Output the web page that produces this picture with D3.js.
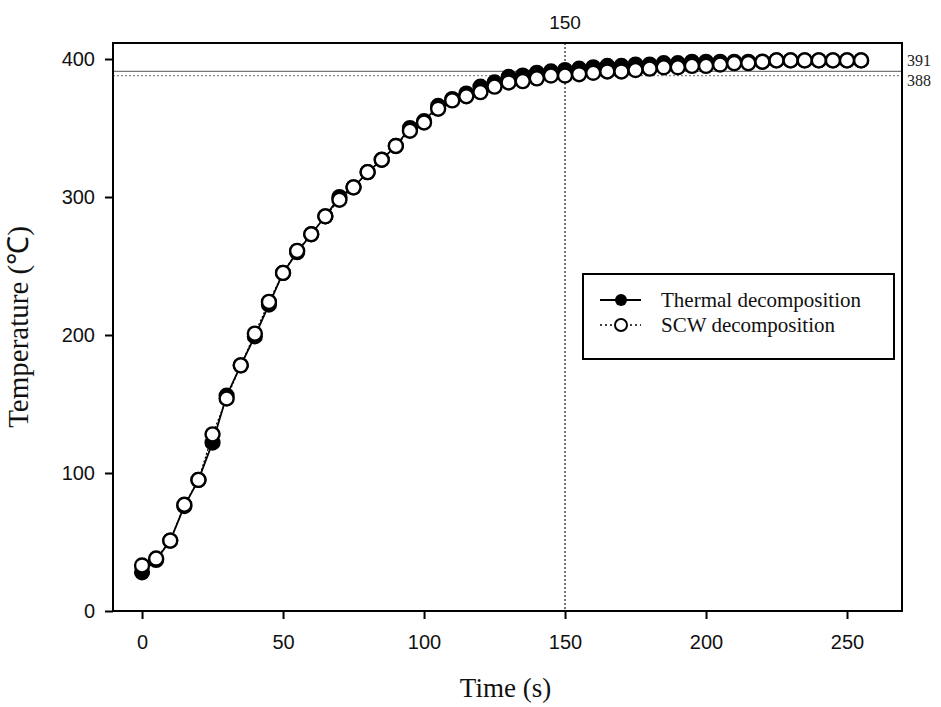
<!DOCTYPE html>
<html>
<head>
<meta charset="utf-8"/>
<script src="https://d3js.org/d3.v7.min.js"></script>
<style>
  body { margin: 0; background: #fff; }
  .tick text { font-family: "Liberation Sans", Arial, sans-serif; font-size: 20px; fill: #111; }
  .serif { font-family: "Liberation Serif", "Times New Roman", serif; }
</style>
</head>
<body>
<svg id="chart" width="941" height="707"></svg>
<script>
// time (s), both runs sampled every 5 s
var times = d3.range(0, 256, 5);

var thermal = [28, 37, 51, 76, 95, 122, 156, 178, 199, 222, 245, 260, 273, 286, 300, 307,
  318, 327, 337, 350, 355, 366, 371, 375, 380, 383, 387, 388, 390, 391, 392, 393, 394, 395,
  395, 396, 396, 397, 397, 398, 398, 398, 398, 398, 398, 399, 399, 399, 399, 399, 399, 399];

var scw = [33, 38, 51, 77, 95, 128, 154, 178, 201, 224, 245, 261, 273, 286, 298, 307,
  318, 327, 337, 348, 354, 364, 370, 373, 376, 380, 383, 384, 386, 388, 388, 389, 390, 391,
  391, 392, 393, 394, 394, 395, 395, 396, 397, 397, 398, 399, 399, 399, 399, 399, 399, 399];

var xTicks = [0, 50, 100, 150, 200, 250];
var yTicks = [0, 100, 200, 300, 400];
var refLines = [391, 388];
var refLabels = ["391", "388"];
var markTime = 150;

var svg = d3.select("#chart");
var pLeft = 113, pRight = 902, pTop = 43, pBottom = 611;

var x = d3.scaleLinear().domain([-10.3, 269.5]).range([pLeft, pRight]);
var y = d3.scaleLinear().domain([0, 411.6]).range([pBottom, pTop]);

// reference lines
svg.append("line")
  .attr("x1", pLeft).attr("x2", pRight)
  .attr("y1", y(refLines[0])).attr("y2", y(refLines[0]))
  .attr("stroke", "#777").attr("stroke-width", 1.2);
svg.append("line")
  .attr("x1", pLeft).attr("x2", pRight)
  .attr("y1", y(refLines[1])).attr("y2", y(refLines[1]))
  .attr("stroke", "#888").attr("stroke-width", 1.2).attr("stroke-dasharray", "2,2");

svg.append("text").attr("class", "serif")
  .attr("x", pRight + 5).attr("y", y(refLines[0]) - 5)
  .attr("font-size", 16).attr("fill", "#222").text(refLabels[0]);
svg.append("text").attr("class", "serif")
  .attr("x", pRight + 5).attr("y", y(refLines[1]) + 10)
  .attr("font-size", 16).attr("fill", "#222").text(refLabels[1]);

// vertical marker at 150 s
svg.append("line")
  .attr("x1", x(markTime)).attr("x2", x(markTime))
  .attr("y1", pTop).attr("y2", pBottom)
  .attr("stroke", "#555").attr("stroke-width", 1.6).attr("stroke-dasharray", "2,2");
svg.append("text")
  .attr("x", x(markTime)).attr("y", 29)
  .attr("text-anchor", "middle")
  .attr("font-family", "Liberation Sans, Arial, sans-serif")
  .attr("font-size", 19).attr("fill", "#111")
  .text(markTime);

// series
var thermalData = times.map(function(t, i) { return [t, thermal[i]]; });
var scwData = times.map(function(t, i) { return [t, scw[i]]; });
var line = d3.line().x(function(d) { return x(d[0]); }).y(function(d) { return y(d[1]); });

svg.append("path").datum(thermalData).attr("d", line)
  .attr("fill", "none").attr("stroke", "#000").attr("stroke-width", 1.8);
svg.selectAll(".pt-th").data(thermalData).enter().append("circle")
  .attr("class", "pt-th")
  .attr("cx", function(d) { return x(d[0]); })
  .attr("cy", function(d) { return y(d[1]); })
  .attr("r", 7).attr("fill", "#000").attr("stroke", "#000").attr("stroke-width", 2.2);

svg.append("path").datum(scwData).attr("d", line)
  .attr("fill", "none").attr("stroke", "#000").attr("stroke-width", 1.2)
  .attr("stroke-dasharray", "2,2");
svg.selectAll(".pt-scw").data(scwData).enter().append("circle")
  .attr("class", "pt-scw")
  .attr("cx", function(d) { return x(d[0]); })
  .attr("cy", function(d) { return y(d[1]); })
  .attr("r", 7).attr("fill", "#fff").attr("stroke", "#000").attr("stroke-width", 2.4);

// frame
svg.append("rect")
  .attr("x", pLeft).attr("y", pTop)
  .attr("width", pRight - pLeft).attr("height", pBottom - pTop)
  .attr("fill", "none").attr("stroke", "#000").attr("stroke-width", 2);

// axes
var xAxis = svg.append("g").attr("transform", "translate(0," + pBottom + ")")
  .call(d3.axisBottom(x).tickValues(xTicks).tickSize(8).tickPadding(16));
var yAxis = svg.append("g").attr("transform", "translate(" + pLeft + ",0)")
  .call(d3.axisLeft(y).tickValues(yTicks).tickSize(8).tickPadding(10));
[xAxis, yAxis].forEach(function(a) {
  a.select(".domain").remove();
  a.selectAll(".tick line").attr("stroke", "#000").attr("stroke-width", 2);
});

// axis titles
svg.append("text").attr("class", "serif")
  .attr("x", (pLeft + pRight) / 2 - 2).attr("y", 697)
  .attr("text-anchor", "middle").attr("font-size", 27).attr("fill", "#111")
  .text("Time (s)");
svg.append("text").attr("class", "serif")
  .attr("transform", "translate(28," + (pTop + pBottom) / 2 + ") rotate(-90)")
  .attr("text-anchor", "middle").attr("font-size", 29).attr("fill", "#111")
  .text("Temperature (℃)");

// legend
var lg = svg.append("g");
lg.append("rect").attr("x", 583).attr("y", 274).attr("width", 311).attr("height", 85)
  .attr("fill", "#fff").attr("stroke", "#000").attr("stroke-width", 2);
lg.append("line").attr("x1", 600).attr("x2", 641).attr("y1", 300).attr("y2", 300)
  .attr("stroke", "#000").attr("stroke-width", 2);
lg.append("circle").attr("cx", 621).attr("cy", 300).attr("r", 6).attr("fill", "#000");
lg.append("text").attr("class", "serif").attr("x", 661).attr("y", 307)
  .attr("font-size", 21).attr("fill", "#111").text("Thermal decomposition");
lg.append("line").attr("x1", 600).attr("x2", 641).attr("y1", 325).attr("y2", 325)
  .attr("stroke", "#000").attr("stroke-width", 1.5).attr("stroke-dasharray", "2,3");
lg.append("circle").attr("cx", 621).attr("cy", 325).attr("r", 6)
  .attr("fill", "#fff").attr("stroke", "#000").attr("stroke-width", 2);
lg.append("text").attr("class", "serif").attr("x", 661).attr("y", 332)
  .attr("font-size", 21).attr("fill", "#111").text("SCW decomposition");
</script>
</body>
</html>
